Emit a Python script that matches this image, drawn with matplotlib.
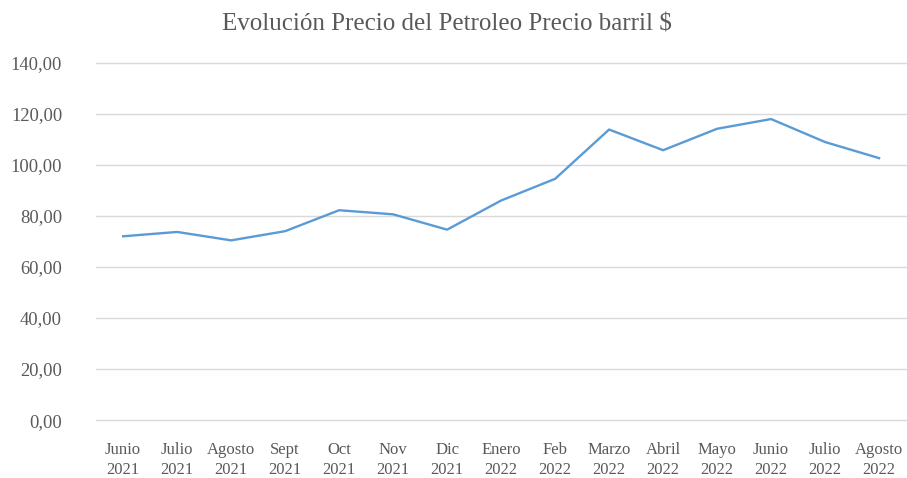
import matplotlib.pyplot as plt
from matplotlib.ticker import FuncFormatter

months = ["Junio", "Julio", "Agosto", "Sept", "Oct", "Nov", "Dic", "Enero",
          "Feb", "Marzo", "Abril", "Mayo", "Junio", "Julio", "Agosto"]
years = ["2021"] * 7 + ["2022"] * 8
prices = [72.0, 73.7, 70.4, 74.0, 82.2, 80.6, 74.6, 86.0,
          94.5, 113.8, 105.7, 114.1, 117.9, 108.9, 102.6]
y_ticks = [0, 20, 40, 60, 80, 100, 120, 140]

plt.rcParams["font.family"] = ["Liberation Serif", "DejaVu Serif"]
text_color = "#595959"

fig = plt.figure(figsize=(9.07, 4.78), dpi=100)
ax = fig.add_axes([0.106, 0.121, 0.893, 0.748])

x = list(range(len(prices)))
ax.plot(x, prices, color="#5B9BD5", linewidth=1.7, solid_joinstyle="round")

ax.set_xlim(-0.5, len(prices) - 0.5)
ax.set_ylim(0, 140)
ax.set_yticks(y_ticks)
ax.yaxis.set_major_formatter(FuncFormatter(lambda v, _: f"{v:.2f}".replace(".", ",")))
ax.set_xticks(x)
ax.set_xticklabels([f"{m}\n{y}" for m, y in zip(months, years)], linespacing=1.4)

ax.grid(axis="y", color="#D9D9D9", linewidth=1.0)
for line in ax.get_ygridlines():
    line.set_clip_on(False)
ax.set_axisbelow(True)
for side in ax.spines.values():
    side.set_visible(False)
ax.tick_params(axis="both", length=0, colors=text_color)
ax.tick_params(axis="y", pad=24.5, labelsize=13.3)
ax.tick_params(axis="x", pad=15.5, labelsize=12)

fig.text(0.493, 0.949, "Evolución Precio del Petroleo Precio barril $",
         ha="center", va="center", fontsize=18, color=text_color)

fig.savefig("out.png", dpi=100)
